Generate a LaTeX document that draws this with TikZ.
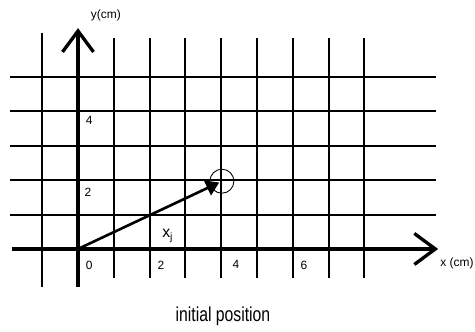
\documentclass[tikz,border=0pt]{standalone}
\usepackage{fontspec}
\setmainfont{Liberation Sans}
\usetikzlibrary{arrows.meta}

\begin{document}
\begin{tikzpicture}[x=0.716cm,y=0.688cm,
    gridline/.style={line width=1.1pt},
    axisline/.style={line width=1.9pt,-{Straight Barb[length=0.42cm,width=0.62cm,line width=1.9pt]}},
    vec/.style={line width=1.5pt,-{Triangle[length=0.26cm,width=0.32cm]},shorten >=0.06cm},
    tick/.style={font=\fontsize{6.8}{7}\selectfont},
    particle/.style={circle,draw,line width=0.5pt,minimum size=0.48cm,inner sep=0pt}]
  \useasboundingbox (-2.179,-2.413) rectangle (11.09,7.238);
  % grid
  \foreach \y in {1,...,5} \draw[gridline] (-1.9,\y) -- (10,\y);
  \draw[gridline] (-1,6.28) -- (-1,-1.1);
  \foreach \x in {1,...,8} \draw[gridline] (\x,6.13) -- (\x,-0.84);
  % axes
  \coordinate (O) at (0,0);
  \coordinate (xs) at (-1.85,0);
  \coordinate (xe) at (10.06,0);
  \coordinate (ys) at (0,-1.1);
  \coordinate (ye) at (0,6.42);
  \draw[axisline] (xs) -- (xe);
  \draw[axisline] (ys) -- (ye);
  \node[tick] (ylab) at (0.78,6.8) {y(cm)};
  \node[tick,anchor=west] (xlab) at (9.95,-0.41) {x (cm)};
  % tick labels
  \node[tick] (y4) at (0.31,3.75) {4};
  \node[tick] (y2) at (0.28,1.66) {2};
  \node[tick] (x0) at (0.31,-0.47) {0};
  \node[tick] (x2) at (2.32,-0.47) {2};
  \node[tick] (x4) at (4.41,-0.45) {4};
  \node[tick] (x6) at (6.31,-0.47) {6};
  % particle and position vector
  \node[particle] (P) at (4.02,1.97) {};
  \draw[vec] (O) -- (P.center);
  \node[font=\fontsize{9}{10}\selectfont] (xj) at (2.51,0.38) {x\textsubscript{j}};
  \node[font=\fontsize{11.5}{12}\selectfont,xscale=0.78] (cap) at (4.05,-1.95) {initial position};
\end{tikzpicture}
\end{document}
